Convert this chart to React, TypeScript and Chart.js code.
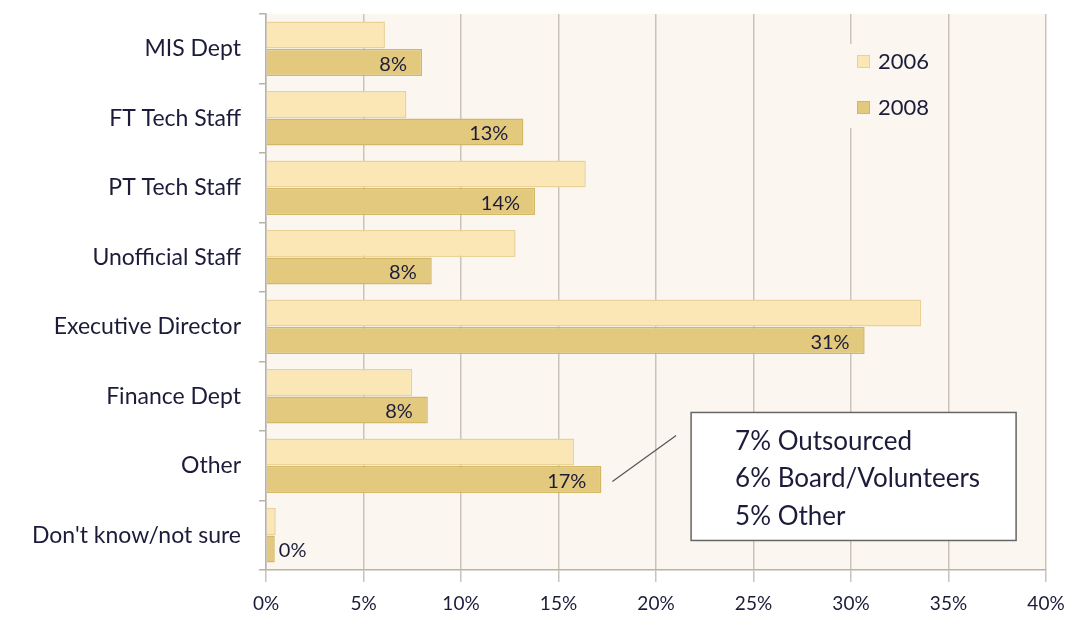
import React, { useEffect, useRef } from "react";
import { Chart, registerables } from "chart.js";

Chart.register(...registerables);

const categories = [
  "MIS Dept",
  "FT Tech Staff",
  "PT Tech Staff",
  "Unofficial Staff",
  "Executive Director",
  "Finance Dept",
  "Other",
  "Don't know/not sure",
];
const seriesNames = ["2006", "2008"];
const values2006 = [6.1, 7.2, 16.4, 12.8, 33.6, 7.5, 15.8, 0.5];
const values2008 = [8.0, 13.2, 13.8, 8.5, 30.7, 8.3, 17.2, 0.45];
const labels2008 = ["8%", "13%", "14%", "8%", "31%", "8%", "17%", "0%"];
const xTickValues = [0, 5, 10, 15, 20, 25, 30, 35, 40];
const calloutLines = ["7% Outsourced", "6% Board/Volunteers", "5% Other"];
const calloutCategory = "Other";

const FONT = "Lato, 'Open Sans', sans-serif";
const TEXT = "#1c1c3a";
const C2006 = "#FBE7B6";
const C2006B = "#E9D29A";
const C2008 = "#E3C97E";
const C2008B = "#D3B767";
const BG = "#FBF7F0";

const bgPlugin = {
  id: "bgFill",
  beforeDraw(chart: any) {
    const { ctx, chartArea } = chart;
    ctx.save();
    ctx.fillStyle = BG;
    ctx.fillRect(chartArea.left, chartArea.top, chartArea.right - chartArea.left, chartArea.bottom - chartArea.top);
    ctx.restore();
  },
};

const overlayPlugin = {
  id: "overlay",
  afterDatasetsDraw(chart: any) {
    const { ctx, chartArea } = chart;
    const xs = chart.scales.x;
    ctx.save();
    // data labels for 2008
    const meta = chart.getDatasetMeta(1);
    ctx.font = `20px ${FONT}`;
    ctx.fillStyle = TEXT;
    ctx.textBaseline = "middle";
    meta.data.forEach((bar: any, i: number) => {
      const txt = labels2008[i];
      const w = ctx.measureText(txt).width;
      const left = xs.getPixelForValue(0);
      if (bar.x - left > w + 20) {
        ctx.textAlign = "right";
        ctx.fillText(txt, bar.x - 15, bar.y + 2);
      } else {
        ctx.textAlign = "left";
        ctx.fillText(txt, bar.x + 4, bar.y + 2);
      }
    });

    // legend box inside plot
    const lx = chartArea.right - 203;
    const ly = chartArea.top + 30;
    ctx.fillStyle = BG;
    ctx.fillRect(lx, ly, 101, 84);
    const colors = [C2006, C2008];
    const borders = [C2006B, C2008B];
    seriesNames.forEach((n, i) => {
      const y = ly + 17 + i * 46;
      ctx.fillStyle = colors[i];
      ctx.fillRect(lx + 14, y - 6, 13, 13);
      ctx.strokeStyle = borders[i];
      ctx.lineWidth = 1;
      ctx.strokeRect(lx + 14.5, y - 5.5, 12, 12);
      ctx.fillStyle = TEXT;
      ctx.textAlign = "left";
      ctx.font = `22px ${FONT}`;
      ctx.fillText(n, lx + 35, y + 1);
    });

    // callout
    const idx = categories.indexOf(calloutCategory);
    const b = meta.data[idx];
    const x0 = b.x + 11;
    const y0 = b.y + 2;
    const bx = xs.getPixelForValue(21.8);
    const bw = 325;
    const bt = y0 - 69;
    const bh = 128;
    ctx.strokeStyle = "#555";
    ctx.lineWidth = 1.2;
    ctx.beginPath();
    ctx.moveTo(x0, y0);
    ctx.lineTo(bx - 15, bt + 23);
    ctx.stroke();
    ctx.fillStyle = "#ffffff";
    ctx.fillRect(bx, bt, bw, bh);
    ctx.strokeStyle = "#666";
    ctx.lineWidth = 1.5;
    ctx.strokeRect(bx, bt, bw, bh);
    ctx.fillStyle = TEXT;
    ctx.font = `26px ${FONT}`;
    ctx.textAlign = "left";
    calloutLines.forEach((t, i) => {
      ctx.fillText(t, bx + 44, bt + 29 + i * 37.5);
    });
    ctx.restore();
  },
};

export default function App() {
  const ref = useRef<HTMLCanvasElement | null>(null);
  useEffect(() => {
    document.body.style.margin = "0";
    if (!ref.current) return;
    const chart = new Chart(ref.current, {
      type: "bar",
      data: {
        labels: categories,
        datasets: [
          {
            label: seriesNames[0],
            data: values2006,
            backgroundColor: C2006,
            borderColor: C2006B,
            borderWidth: 1.5,
            categoryPercentage: 0.79,
            barPercentage: 0.98,
          },
          {
            label: seriesNames[1],
            data: values2008,
            backgroundColor: C2008,
            borderColor: C2008B,
            borderWidth: 1.5,
            categoryPercentage: 0.79,
            barPercentage: 0.98,
          },
        ],
      },
      options: {
        indexAxis: "y",
        animation: false,
        responsive: false,
        maintainAspectRatio: false,
        layout: { padding: { top: 14, right: 25, left: 0, bottom: 0 } },
        plugins: {
          legend: { display: false },
          tooltip: { enabled: false },
        },
        scales: {
          x: {
            min: 0,
            max: 40,
            afterBuildTicks: (s: any) => {
              s.ticks = xTickValues.map((v) => ({ value: v }));
            },
            afterFit: (s: any) => {
              s.height = 55;
              s.paddingLeft = 0;
              s.paddingRight = 0;
            },
            ticks: {
              callback: (v: any) => `${v}%`,
              color: TEXT,
              font: { family: FONT, size: 19 },
              padding: 10,
            },
            grid: {
              color: "#C9C3BA",
              lineWidth: 1.5,
              tickLength: 12,
              drawOnChartArea: true,
            },
            border: { color: "#B8B2A8", width: 1.5 },
          },
          y: {
            offset: true,
            afterFit: (s: any) => {
              s.width = 266;
              s.paddingTop = 0;
              s.paddingBottom = 0;
            },
            ticks: {
              color: TEXT,
              font: { family: FONT, size: 23 },
              padding: 18,
            },
            grid: {
              offset: true,
              drawOnChartArea: false,
              tickLength: 7,
              color: "#B8B2A8",
              lineWidth: 1.5,
            },
            border: { color: "#B8B2A8", width: 1.5 },
          },
        },
      },
      plugins: [bgPlugin, overlayPlugin],
    });
    return () => chart.destroy();
  }, []);
  return (
    <div style={{ position: "absolute", left: 0, top: 0, width: 1071, height: 625, background: "#fff" }}>
      <canvas ref={ref} width={1071} height={625} />
    </div>
  );
}
